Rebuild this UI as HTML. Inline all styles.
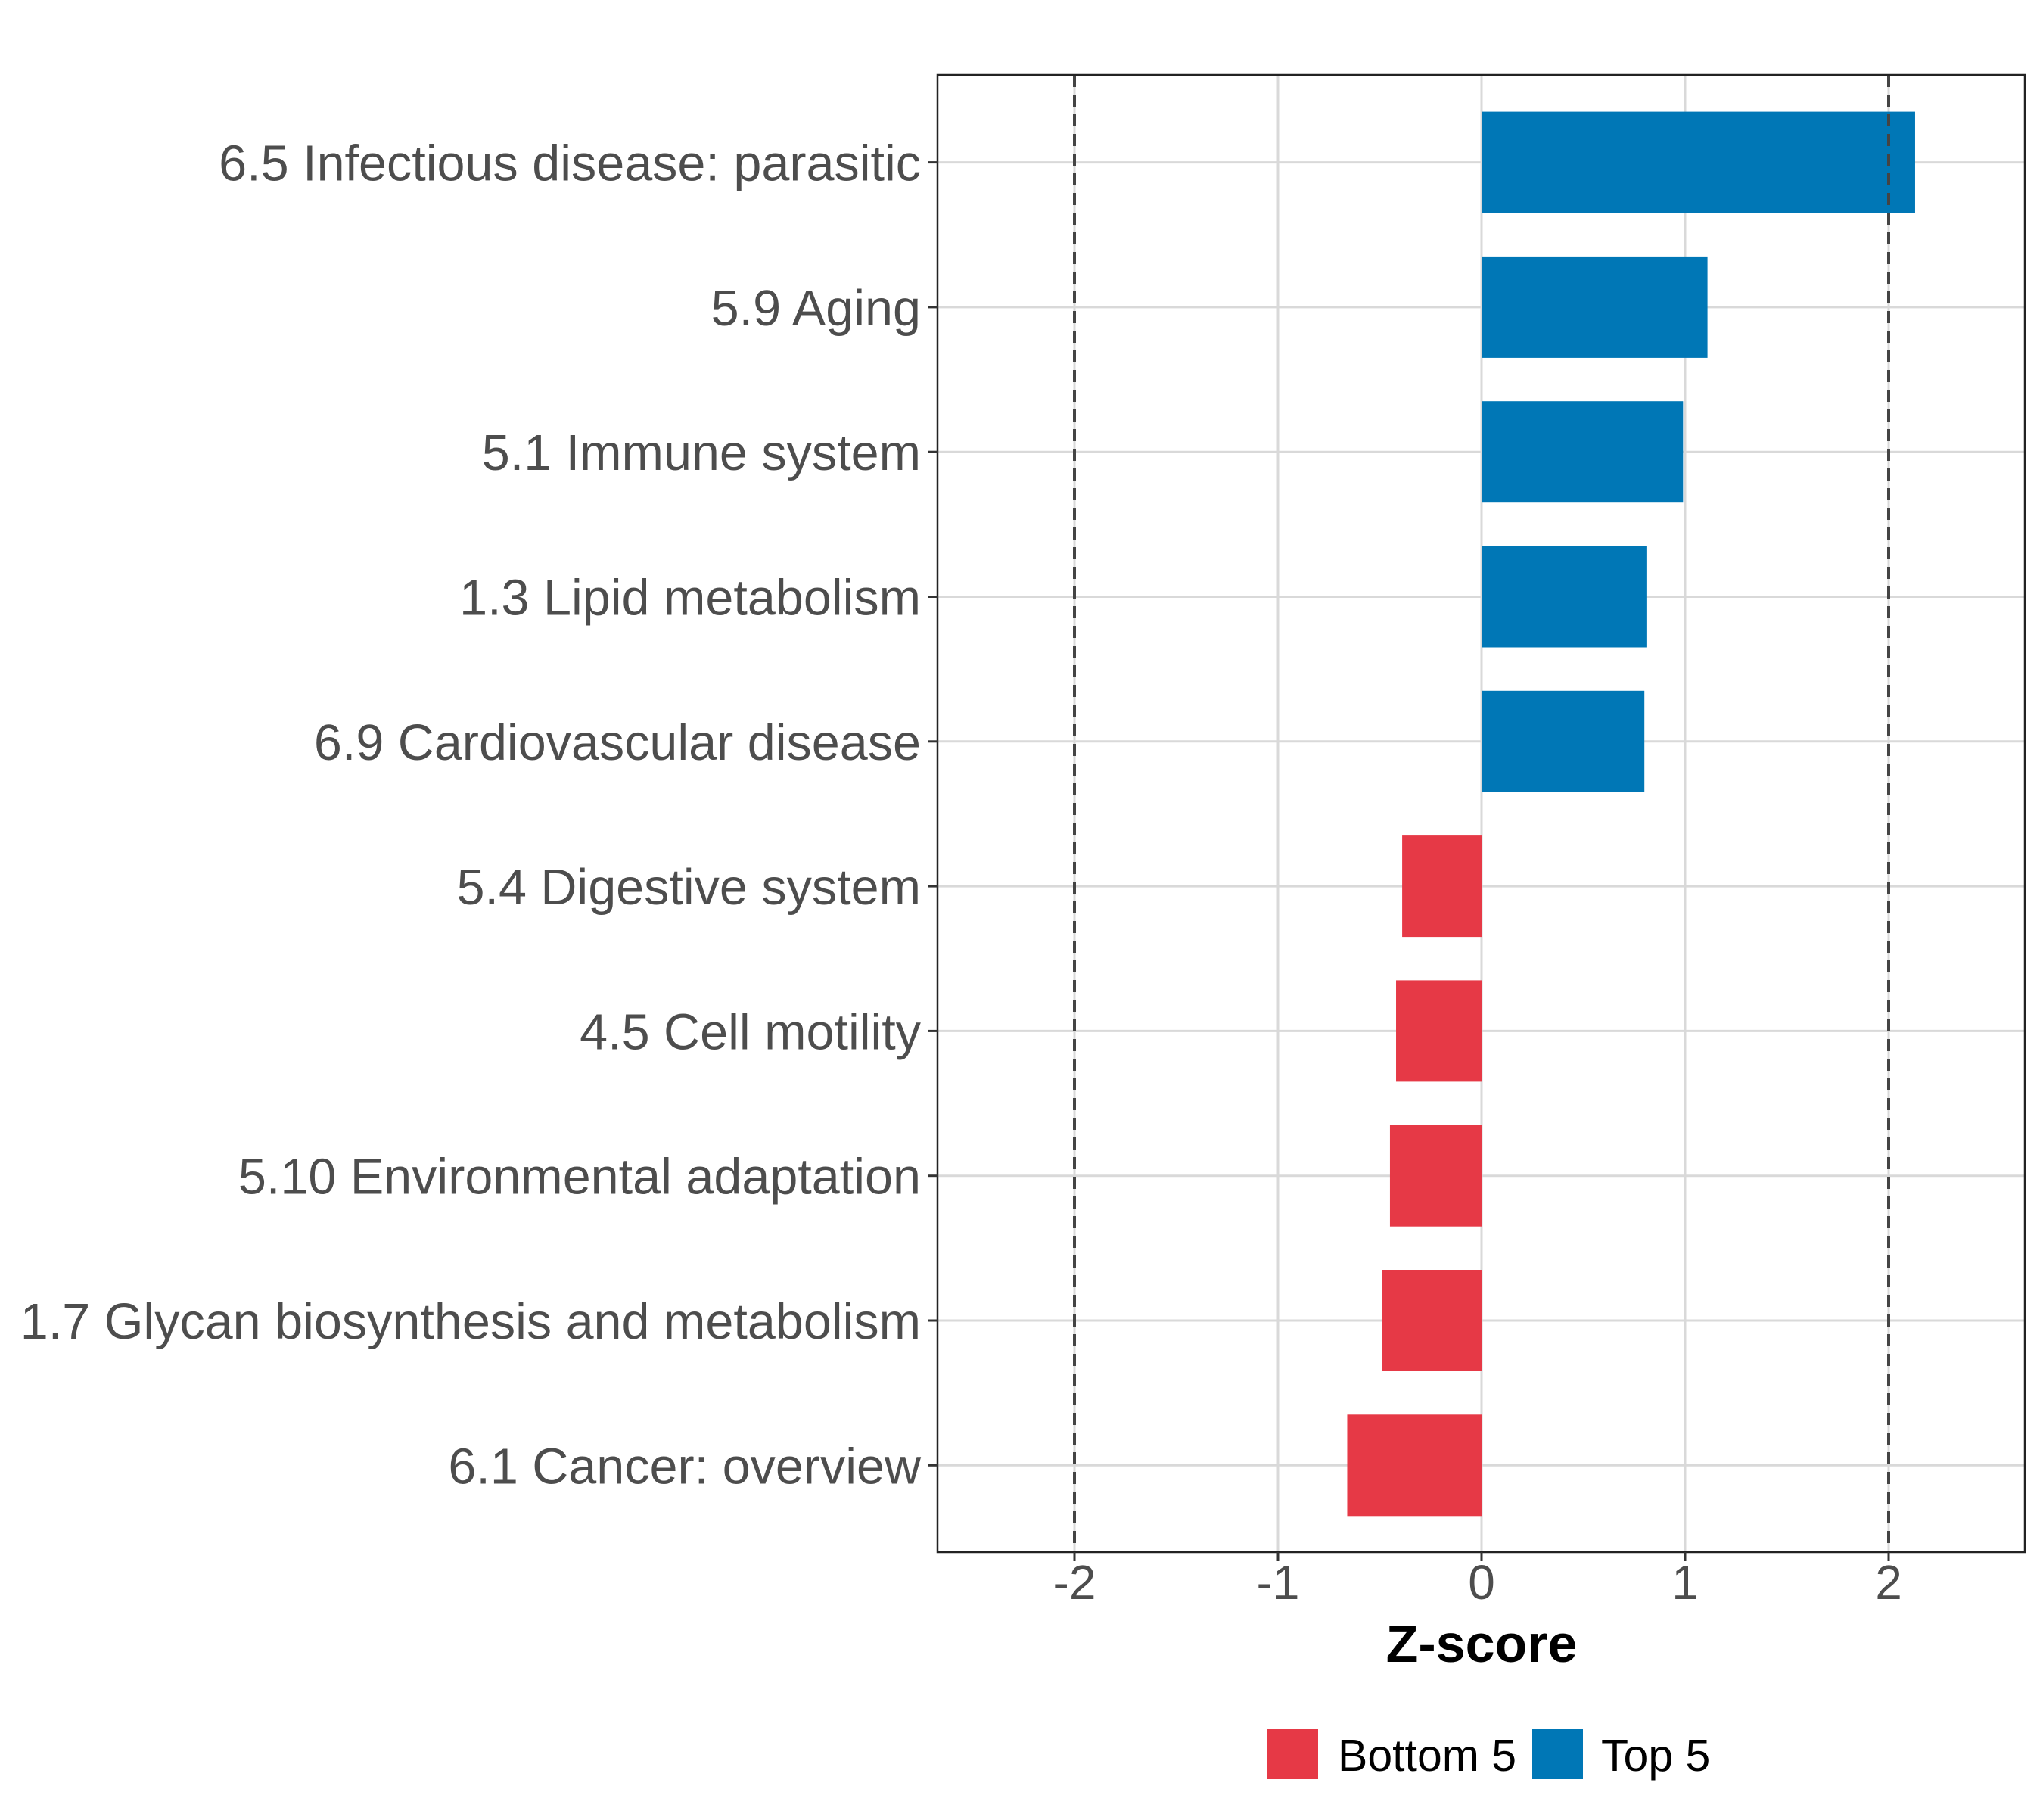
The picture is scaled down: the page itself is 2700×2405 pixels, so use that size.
<!DOCTYPE html>
<html><head><meta charset="utf-8"><style>
body{margin:0;background:#fff;}
svg text{font-family:"Liberation Sans",sans-serif;}
</style></head><body>
<svg id="chart" width="2700" height="2400" xmlns="http://www.w3.org/2000/svg"></svg>
<script>
const categories=["6.5 Infectious disease: parasitic","5.9 Aging","5.1 Immune system","1.3 Lipid metabolism","6.9 Cardiovascular disease","5.4 Digestive system","4.5 Cell motility","5.10 Environmental adaptation","1.7 Glycan biosynthesis and metabolism","6.1 Cancer: overview"];
const zscores=[2.13,1.11,0.99,0.81,0.80,-0.39,-0.42,-0.45,-0.49,-0.66];
const groups=["Top 5","Top 5","Top 5","Top 5","Top 5","Bottom 5","Bottom 5","Bottom 5","Bottom 5","Bottom 5"];
const xTicks=[-2,-1,0,1,2];
const thresholds=[-2,2];
const legendLabels=["Bottom 5","Top 5"];

const svg=document.getElementById('chart');
const NS="http://www.w3.org/2000/svg";
const L=1239,R=2676,T=99,B=2051;
const x0=1958,unit=269;
const xs=v=>x0+v*unit;
const rowStep=191.3,row0=214.6;
const ys=i=>row0+i*rowStep;
const colors={"Top 5":"#0077B6","Bottom 5":"#E63946"};
function mk(tag,attrs){const e=document.createElementNS(NS,tag);for(const k in attrs)e.setAttribute(k,attrs[k]);svg.appendChild(e);return e;}

xTicks.forEach(t=>{const g=mk('line',{x1:xs(t),x2:xs(t),y1:T,y2:B,stroke:'#D9D9D9','stroke-width':3});

});
categories.forEach((c,i)=>{const g=mk('line',{x1:L,x2:R,y1:ys(i),y2:ys(i),stroke:'#D9D9D9','stroke-width':3});

});
zscores.forEach((v,i)=>{const a=xs(0),b=xs(v);const r=mk('rect',{x:Math.min(a,b),y:ys(i)-67,width:Math.abs(b-a),height:134,fill:colors[groups[i]]});

});
thresholds.forEach(t=>{const l=mk('line',{x1:xs(t),x2:xs(t),y1:T,y2:B,stroke:'#444','stroke-width':4,'stroke-dasharray':'16,10'});

});
const bd=mk('rect',{x:L,y:T,width:R-L,height:B-T,fill:'none',stroke:'#222','stroke-width':2.5});


xTicks.forEach(t=>{const tk=mk('line',{x1:xs(t),x2:xs(t),y1:B,y2:B+12,stroke:'#333','stroke-width':3});


const tx=mk('text',{x:xs(t),y:2113,'text-anchor':'middle','font-size':64,fill:'#4D4D4D'});tx.textContent=t;

});
categories.forEach((c,i)=>{const tk=mk('line',{x1:L-12,x2:L,y1:ys(i),y2:ys(i),stroke:'#333','stroke-width':3});


const tx=mk('text',{x:1217,y:ys(i)+24,'text-anchor':'end','font-size':66.5,fill:'#4D4D4D'});tx.textContent=c;

});
const at=mk('text',{x:xs(0),y:2196,'text-anchor':'middle','font-size':70,'font-weight':'bold',fill:'#000'});at.textContent='Z-score';


const lx=[1675,2025],tx2=[1768,2116];
legendLabels.forEach((lab,i)=>{const k=mk('rect',{x:lx[i],y:2285,width:67,height:66,fill:colors[lab]});


const t=mk('text',{x:tx2[i],y:2340,'font-size':59,fill:'#000'});t.textContent=lab;

});
</script>
</body></html>
